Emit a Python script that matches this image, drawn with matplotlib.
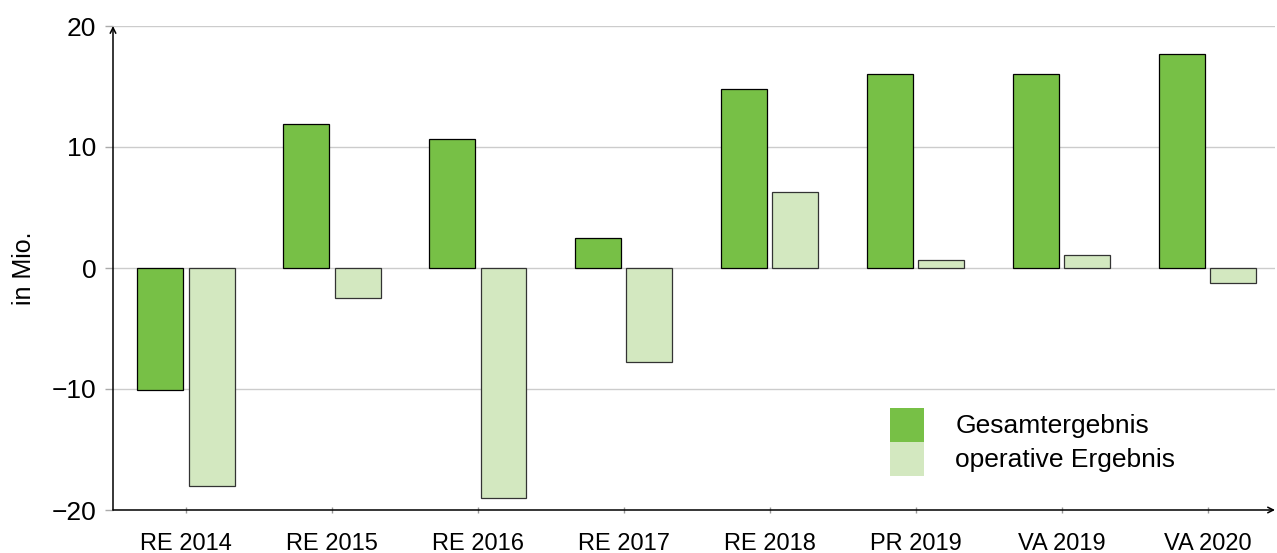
import matplotlib.pyplot as plt
import numpy as np

plt.rcParams['font.family'] = ['Liberation Sans', 'DejaVu Sans']

kategorien = ["RE 2014", "RE 2015", "RE 2016", "RE 2017", "RE 2018", "PR 2019", "VA 2019", "VA 2020"]
gesamt = [-10.1, 11.9, 10.7, 2.5, 14.8, 16.0, 16.0, 17.7]
operativ = [-18.0, -2.5, -19.0, -7.8, 6.3, 0.7, 1.1, -1.2]

gruen = "#77c046"
hellgruen = "#d3e8c0"

fig = plt.figure(figsize=(12.77, 5.53), dpi=100)
ax = fig.add_axes([113/1277, 1-510/553, (1275-113)/1277, (510-26)/553])

x = np.arange(len(kategorien))
breite = 0.315
ax.bar(x - 0.175, gesamt, width=breite, color=gruen, edgecolor="k", linewidth=0.9,
       label="Gesamtergebnis", zorder=3)
ax.bar(x + 0.175, operativ, width=breite, color=hellgruen, edgecolor="#333333", linewidth=0.9,
       label="operative Ergebnis", zorder=3)

ax.set_xlim(-0.5, 7.46)
ax.set_ylim(-20, 20)
ax.set_yticks([-20, -10, 0, 10, 20])
ax.set_xticks(x)
ax.set_xticklabels(kategorien, fontsize=17)
ax.tick_params(axis='y', labelsize=19, color="#aaaaaa", length=6, width=1, pad=6)
ax.tick_params(axis='x', color="#999999", length=5, width=1, direction='inout', pad=14)
ax.yaxis.grid(True, color="#cccccc", linewidth=1, zorder=0)
ax.set_axisbelow(True)
ax.set_ylabel("in Mio.", fontsize=18, labelpad=11)

for s in ["top", "right", "left", "bottom"]:
    ax.spines[s].set_visible(False)

# Achsen mit Pfeilen
ax.annotate("", xy=(0, 1.0), xytext=(0, 0), xycoords='axes fraction',
            arrowprops=dict(arrowstyle="->", color="k", lw=1.1, shrinkA=0, shrinkB=0), zorder=4)
ax.annotate("", xy=(1.0, 0), xytext=(0, 0), xycoords='axes fraction',
            arrowprops=dict(arrowstyle="->", color="k", lw=1.1, shrinkA=0, shrinkB=0), zorder=4)

leg = ax.legend(loc='upper left', bbox_to_anchor=(0.669, 0.211), frameon=False, fontsize=19,
                handlelength=1.29, handleheight=1.6, labelspacing=0, handletextpad=1.17,
                borderpad=0, borderaxespad=0)
for h in leg.legend_handles:
    h.set_edgecolor("none")

plt.savefig("out.png", dpi=100)
